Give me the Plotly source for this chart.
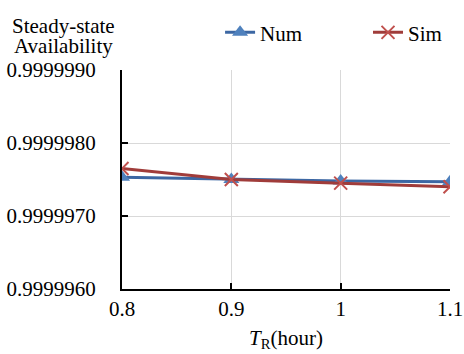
import plotly.graph_objects as go

x_vals = [0.8, 0.9, 1.0, 1.1]
x_ticktext = ["0.8", "0.9", "1", "1.1"]
num_vals = [0.99999753, 0.99999750, 0.99999748, 0.99999747]
sim_vals = [0.99999765, 0.99999750, 0.99999745, 0.99999740]
y_ticks = [0.9999960, 0.9999970, 0.9999980, 0.9999990]

FONT = "Times New Roman, Liberation Serif, DejaVu Serif, serif"
FS = 21

fig = go.Figure()
fig.add_trace(go.Scatter(
    x=x_vals, y=num_vals, name="Num", mode="lines+markers",
    line=dict(color="#3C67A3", width=3),
    marker=dict(symbol="triangle-up", size=14, color="#4F81BD"),
    legend="legend",
))
fig.add_trace(go.Scatter(
    x=x_vals, y=sim_vals, name="Sim", mode="lines+markers",
    line=dict(color="#A03C3A", width=3),
    marker=dict(symbol="x-thin", size=13, color="#C0504D",
                line=dict(color="#C0504D", width=2)),
    legend="legend2",
))

leg_common = dict(xanchor="left", yanchor="top", font=dict(size=FS, family=FONT),
                  bgcolor="rgba(0,0,0,0)")

fig.update_layout(
    width=464, height=354,
    margin=dict(l=122, r=14, t=70, b=65, autoexpand=False),
    paper_bgcolor="white", plot_bgcolor="white",
    font=dict(family=FONT, size=FS, color="black"),
    showlegend=True,
    legend=dict(x=0.299, y=1.264, **leg_common),
    legend2=dict(x=0.75, y=1.264, **leg_common),
    xaxis=dict(range=[0.8, 1.1], tickvals=x_vals, ticktext=x_ticktext,
               showline=True, linecolor="black", linewidth=2,
               showgrid=True, gridcolor="#D9D9D9", gridwidth=1,
               ticks="inside", ticklen=6, tickcolor="black", tickwidth=2,
               zeroline=False, tickfont=dict(size=FS, family=FONT),
               title=dict(text="<i>T</i><sub>R</sub>(hour)", font=dict(size=FS, family=FONT), standoff=10)),
    yaxis=dict(range=[0.9999960, 0.9999990], tickvals=y_ticks, tickformat=".7f",
               showline=True, linecolor="black", linewidth=2,
               showgrid=True, gridcolor="#D9D9D9", gridwidth=1,
               ticks="inside", ticklen=6, tickcolor="black", tickwidth=2,
               zeroline=False, tickfont=dict(size=FS, family=FONT), ticklabelstandoff=20),
    annotations=[
        dict(text="Steady-state", xref="paper", yref="paper",
             x=-0.177, y=1.203, xanchor="center", yanchor="middle",
             showarrow=False, font=dict(size=FS, family=FONT)),
        dict(text="Availability", xref="paper", yref="paper",
             x=-0.177, y=1.108, xanchor="center", yanchor="middle",
             showarrow=False, font=dict(size=FS, family=FONT)),
    ],
)

fig.write_html("out.html", config={"displayModeBar": False},
               post_script="document.body.style.margin='0';document.body.style.overflow='hidden';")
